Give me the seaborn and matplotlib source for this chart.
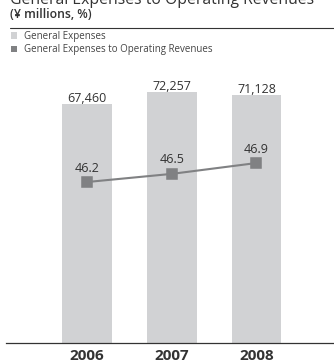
import matplotlib
matplotlib.use("Agg")
import matplotlib.pyplot as plt
from matplotlib.lines import Line2D
from matplotlib.patches import Patch
import numpy as np
import pandas as pd
import seaborn as sns

# Fiscal years and figures
years = ["2006", "2007", "2008"]
general_expenses = [67460, 72257, 71128]          # ¥ millions
expense_ratio = [46.2, 46.5, 46.9]                 # % of operating revenues

title = "General Expenses to Operating Revenues"
unit_label = "(¥ millions, %)"
series_names = ["General Expenses", "General Expenses to Operating Revenues"]

BAR_COLOR = "#d1d2d4"
LINE_COLOR = "#808183"
TEXT_COLOR = "#333333"
FONT = "Open Sans"

# Bars are drawn from a common floor below zero so the columns fill the panel
BAR_FLOOR = -28000

sns.set_theme(style="white")
plt.rcParams["font.family"] = [FONT, "DejaVu Sans"]
plt.rcParams["text.color"] = TEXT_COLOR

W, H = 334, 362
fig = plt.figure(figsize=(W / 100, H / 100), dpi=100)

ax_left, ax_right = 6, 334
ax_top, ax_bottom = 60, 342.5
ax = fig.add_axes([ax_left / W, 1 - ax_bottom / H,
                   (ax_right - ax_left) / W, (ax_bottom - ax_top) / H])

bars = pd.DataFrame({
    "year": years,
    "value": general_expenses,
})
bars["span"] = bars["value"] - BAR_FLOOR

sns.barplot(data=bars, x="year", y="span", bottom=BAR_FLOOR, color=BAR_COLOR,
            saturation=1, width=0.585, ax=ax, errorbar=None, linewidth=0)

# Value labels over the columns
for i, v in enumerate(general_expenses):
    ax.annotate(f"{v:,}", xy=(i, v), xytext=(0, 2), textcoords="offset pixels",
                ha="center", va="baseline", fontsize=9, color=TEXT_COLOR)

ax.set_ylim(BAR_FLOOR, 85000)

# Ratio line on a secondary scale
ax2 = ax.twinx()
ratio = pd.DataFrame({"year": years, "ratio": expense_ratio})
sns.pointplot(data=ratio, x="year", y="ratio", ax=ax2, color=LINE_COLOR,
              markers="s", errorbar=None, markersize=7.6, linewidth=1.5)
for i, r in enumerate(expense_ratio):
    ax2.annotate(f"{r:.1f}", xy=(i, r), xytext=(0, 10.5), textcoords="offset pixels",
                 ha="center", va="baseline", fontsize=9, color=TEXT_COLOR)
ax2.set_ylim(40.28, 50.70)

for a in (ax, ax2):
    a.set_xlim(-0.96, 2.917)
    a.set_ylabel("")
    a.set_xlabel("")
    a.set_yticks([])
    for side in ("top", "left", "right", "bottom"):
        a.spines[side].set_visible(False)
    a.patch.set_visible(False)

ax.spines["bottom"].set_visible(True)
ax.spines["bottom"].set_color(TEXT_COLOR)
ax.spines["bottom"].set_linewidth(0.9)
ax.tick_params(axis="x", length=0, pad=5)
ax.set_xticks(range(len(years)))
ax.set_xticklabels(years, fontsize=11, fontweight="bold", color=TEXT_COLOR)
ax2.tick_params(axis="x", length=0, labelbottom=False)

# Header: title, unit, rule and legend
fig.text(10 / W, 1 - 4 / H, title, fontsize=11.3, va="baseline", ha="left",
         color=TEXT_COLOR)
fig.text(10 / W, 1 - 18.5 / H, unit_label, fontsize=8.8, fontweight="semibold",
         va="baseline", ha="left", color=TEXT_COLOR)
fig.add_artist(Line2D([10 / W, 1], [1 - 28 / H, 1 - 28 / H], color=TEXT_COLOR,
                      linewidth=0.8))

handles = [Patch(facecolor=BAR_COLOR, edgecolor="none"),
           Patch(facecolor=LINE_COLOR, edgecolor="none")]
leg = fig.legend(handles, series_names, loc="upper left",
                 bbox_to_anchor=(11 / W, 1 - 31 / H), frameon=False, fontsize=7,
                 handlelength=0.65, handleheight=0.65, handletextpad=0.7,
                 labelspacing=0.25, borderpad=0, borderaxespad=0)
for t in leg.get_texts():
    t.set_color("#444444")

fig.savefig("out.png", dpi=100)
